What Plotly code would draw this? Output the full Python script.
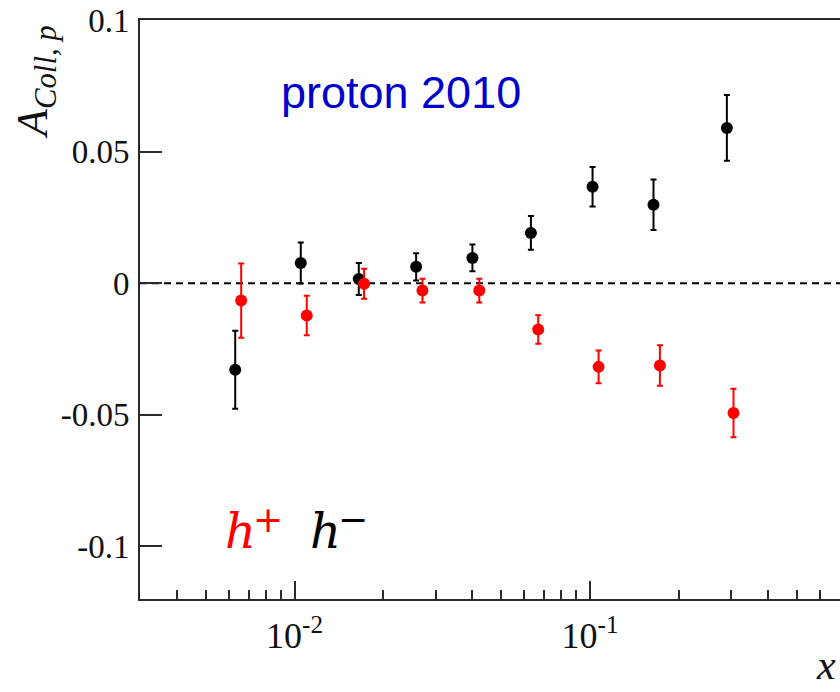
import math
import plotly.graph_objects as go

# Bjorken-x bin positions and Collins asymmetries on the proton (2010 data)
x_hminus = [0.0063, 0.0105, 0.0165, 0.0258, 0.0400, 0.0631, 0.1020, 0.1640, 0.2905]
a_hminus = [-0.0329, 0.0077, 0.0016, 0.0062, 0.0096, 0.0191, 0.0366, 0.0298, 0.0590]
e_hminus = [0.0148, 0.0078, 0.0061, 0.0052, 0.0051, 0.0064, 0.0075, 0.0096, 0.0125]

x_hplus = [0.0066, 0.0110, 0.0172, 0.0271, 0.0422, 0.0668, 0.1069, 0.1724, 0.3059]
a_hplus = [-0.0066, -0.0123, -0.0002, -0.0028, -0.0028, -0.0176, -0.0318, -0.0313, -0.0493]
e_hplus = [0.0141, 0.0075, 0.0057, 0.0045, 0.0045, 0.0054, 0.0062, 0.0077, 0.0092]

y_ticks = [0.1, 0.05, 0, -0.05, -0.1]
y_tick_labels = ["0.1", "0.05", "0", "-0.05", "-0.1"]
x_major = [0.01, 0.1]
x_major_labels = ["10<sup>-2</sup>", "10<sup>-1</sup>"]
x_minor = [0.004, 0.005, 0.006, 0.007, 0.008, 0.009,
           0.02, 0.03, 0.04, 0.05, 0.06, 0.07, 0.08, 0.09,
           0.2, 0.3, 0.4, 0.5, 0.6]

W, H = 840, 692
ML, MR, MT, MB = 140, 0, 20, 93
x_lo = math.log10(0.003)
x_hi = x_lo + (W - ML - MR) / 295.5

AXIS = "#2a2a2a"
SERIF = "Liberation Serif"

fig = go.Figure()

fig.add_trace(go.Scatter(
    x=x_hminus, y=a_hminus, mode="markers", name="h-",
    marker=dict(color="black", size=12),
    error_y=dict(type="data", array=e_hminus, color="black", thickness=2, width=3),
))
fig.add_trace(go.Scatter(
    x=x_hplus, y=a_hplus, mode="markers", name="h+",
    marker=dict(color="#ff0000", size=12),
    error_y=dict(type="data", array=e_hplus, color="#ff0000", thickness=2, width=3),
))

# zero reference line
fig.add_shape(type="line", xref="paper", yref="y", x0=0, x1=1, y0=0, y1=0,
              line=dict(color="black", width=2, dash="7px,5px"), layer="below")

fig.update_layout(
    width=W, height=H,
    margin=dict(l=ML, r=MR, t=MT, b=MB, pad=0),
    paper_bgcolor="white", plot_bgcolor="white",
    showlegend=False,
    xaxis=dict(
        type="log", range=[x_lo, x_hi],
        showgrid=False, zeroline=False,
        showline=True, linecolor=AXIS, linewidth=2, mirror=True,
        ticks="inside", ticklen=18, tickwidth=2, tickcolor=AXIS,
        tickmode="array", tickvals=x_major, ticktext=x_major_labels,
        tickfont=dict(family=SERIF, size=36, color="#111"),
        ticklabelstandoff=4,
        minor=dict(tickmode="array", tickvals=x_minor, ticks="inside",
                   ticklen=9, tickwidth=2, tickcolor=AXIS, showgrid=False),
    ),
    yaxis=dict(
        range=[-0.12, 0.1],
        showgrid=False, zeroline=False,
        showline=True, linecolor=AXIS, linewidth=2, mirror=False,
        ticks="inside", ticklen=22, tickwidth=2, tickcolor=AXIS,
        tickmode="array", tickvals=y_ticks, ticktext=y_tick_labels,
        tickfont=dict(family=SERIF, size=33, color="#111"),
        ticklabelstandoff=2,
    ),
)

pw = W - ML - MR
ph = H - MT - MB


def px(xp):
    return (xp - ML) / pw


def py(yp):
    return 1 - (yp - MT) / ph


# axis titles
fig.add_annotation(
    xref="paper", yref="paper", x=px(36), y=py(82),
    text="<i>A</i><sub><i>Coll, p</i></sub>", textangle=-90,
    showarrow=False, xanchor="center", yanchor="middle",
    font=dict(family=SERIF, size=44, color="#111"),
)
fig.add_annotation(
    xref="paper", yref="paper", x=px(838), y=py(690),
    text="<i>x</i>", showarrow=False, xanchor="right", yanchor="bottom",
    font=dict(family=SERIF, size=42, color="#111"),
)

# data-set label
fig.add_annotation(
    xref="paper", yref="paper", x=px(279), y=py(93),
    text="proton 2010", showarrow=False, xanchor="left", yanchor="middle",
    font=dict(family="Liberation Sans", size=45, color="#0000cc"),
)

# hadron charge labels
for hx, sx, sign, col in [(240, 268, "+", "#ff0000"), (325, 353, "\u2212", "black")]:
    fig.add_annotation(
        xref="paper", yref="paper", x=px(hx), y=py(531),
        text="<i>h</i>", showarrow=False, xanchor="center", yanchor="middle",
        font=dict(family="DejaVu Serif", size=48, color=col),
    )
    fig.add_annotation(
        xref="paper", yref="paper", x=px(sx), y=py(519),
        text=sign, showarrow=False, xanchor="center", yanchor="middle",
        font=dict(family="DejaVu Sans", size=36, color=col),
    )

fig.write_html("out.html")
